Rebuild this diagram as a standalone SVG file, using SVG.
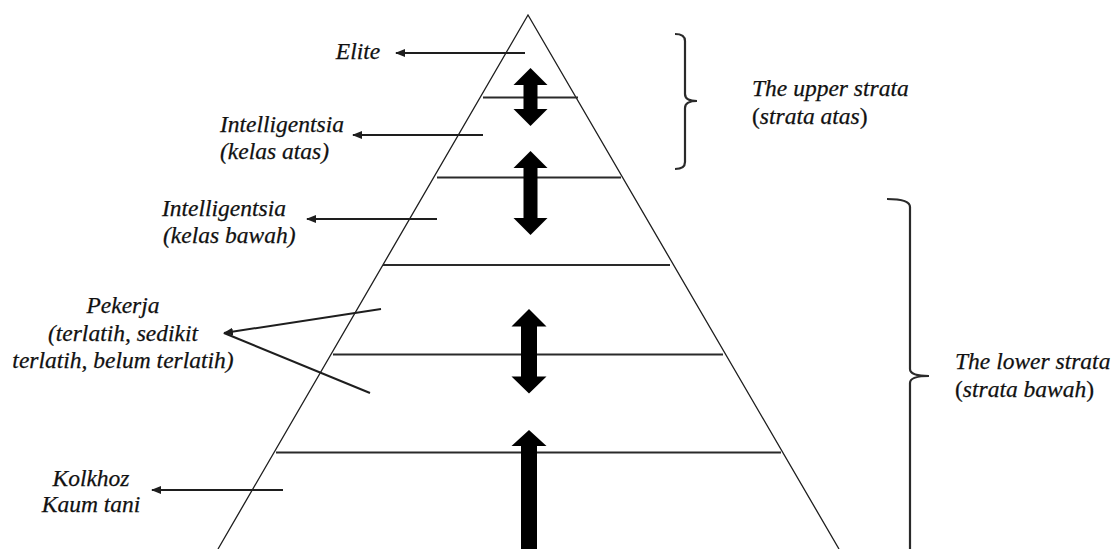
<svg xmlns="http://www.w3.org/2000/svg" width="1115" height="549" viewBox="0 0 1115 549">
<style>
text{font-family:'Liberation Serif','DejaVu Serif',serif;font-style:italic;font-size:23.5px;fill:#111;stroke:#111;stroke-width:0.25}
.u{font-style:normal}
.edge{stroke:#1e1e1e;stroke-width:1.3;fill:none}
.band{stroke:#2a2a2a;stroke-width:2;fill:none}
.ptr{stroke:#1e1e1e;stroke-width:2;fill:none}
.brk{stroke:#2a2a2a;stroke-width:2.2;fill:none}
.big{fill:#000}
</style>
<defs>
<marker id="ah" viewBox="0 0 10 10" refX="9" refY="5" markerWidth="5" markerHeight="5" orient="auto" markerUnits="strokeWidth">
<path d="M0,1 L10,5 L0,9 Z" fill="#1e1e1e"/>
</marker>
</defs>
<rect width="1115" height="549" fill="#fff"/>
<g id="pyramid">
<path class="edge" d="M218,549 L528,15 L839,549"/>
<line class="band" x1="483" y1="97.5" x2="578" y2="97.5"/>
<line class="band" x1="437" y1="177.5" x2="621" y2="177.5"/>
<line class="band" x1="383" y1="265" x2="670" y2="265"/>
<line class="band" x1="333" y1="354.5" x2="723" y2="354.5"/>
<line class="band" x1="276" y1="452.5" x2="781" y2="452.5"/>
</g>
<g id="label-elite"><text x="358" y="59" text-anchor="middle">Elite</text></g>
<g id="label-intel-atas"><text x="220" y="132">Intelligentsia</text><text x="220" y="159">(kelas atas)</text></g>
<g id="label-intel-bawah"><text x="162" y="216">Intelligentsia</text><text x="163" y="243">(kelas bawah)</text></g>
<g id="label-pekerja"><text x="123" y="313" text-anchor="middle">Pekerja</text><text x="123" y="341" text-anchor="middle">(terlatih, sedikit</text><text x="123" y="368" text-anchor="middle">terlatih, belum terlatih)</text></g>
<g id="label-kolkhoz"><text x="91" y="486" text-anchor="middle">Kolkhoz</text><text x="91" y="512" text-anchor="middle">Kaum tani</text></g>
<g id="upper-strata">
<path class="brk" d="M675,34 Q685,34 685,41 L685,94 Q685,101 697,101 Q685,101 685,108 L685,162 Q685,169 675,169"/>
<text x="752" y="96">The upper strata</text>
<text x="752" y="124"><tspan class="u">(</tspan>strata atas<tspan class="u">)</tspan></text>
</g>
<g id="lower-strata">
<path class="brk" d="M887,199 Q910,199 910,207 L910,369 Q910,376 929,376 Q910,376 910,383 L910,549"/>
<text x="955" y="369">The lower strata</text>
<text x="955" y="397"><tspan class="u">(</tspan>strata bawah<tspan class="u">)</tspan></text>
</g>
<g id="connectors">
<line class="ptr" x1="525" y1="53" x2="396" y2="53" marker-end="url(#ah)"/>
<line class="ptr" x1="483" y1="135" x2="353" y2="135" marker-end="url(#ah)"/>
<line class="ptr" x1="437" y1="219" x2="307" y2="219" marker-end="url(#ah)"/>
<line class="ptr" x1="381" y1="309" x2="224" y2="333" marker-end="url(#ah)"/>
<line class="ptr" x1="370" y1="393" x2="224" y2="333"/>
<line class="ptr" x1="283" y1="490" x2="152" y2="490" marker-end="url(#ah)"/>
<polygon class="big" points="530.5,68 547.5,85 537.5,85 537.5,109 547.5,109 530.5,126 513.5,109 523.5,109 523.5,85 513.5,85"/>
<polygon class="big" points="530.5,151 547.5,168 537.5,168 537.5,218 547.5,218 530.5,235 513.5,218 523.5,218 523.5,168 513.5,168"/>
<polygon class="big" points="529,309 546.5,326.5 537,326.5 537,376.5 546.5,376.5 529,393.5 511.5,376.5 521,376.5 521,326.5 511.5,326.5"/>
<polygon class="big" points="529,430 546.5,446 537,446 537,549 521,549 521,446 511.5,446"/>
</g>
</svg>
